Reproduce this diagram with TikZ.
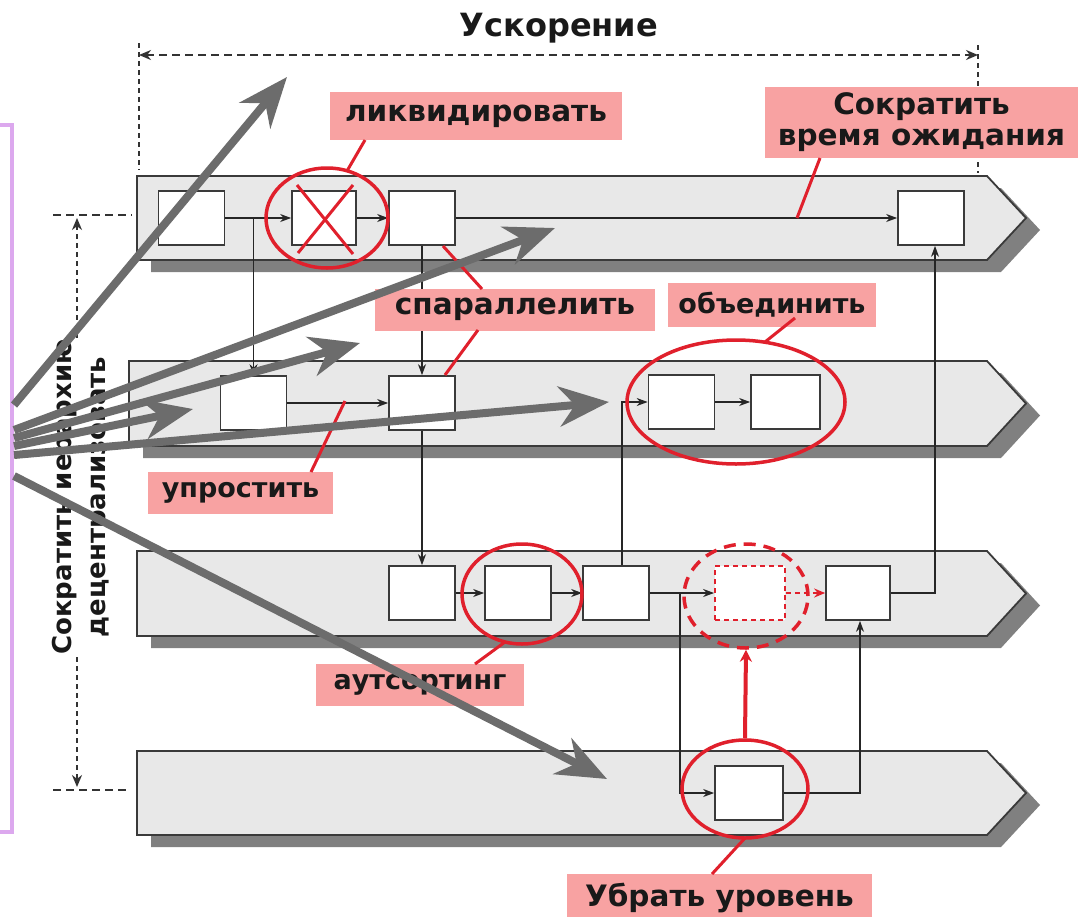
\documentclass[tikz,border=0pt]{standalone}
\usepackage{fontspec}
\setmainfont{DejaVu Sans}
\usetikzlibrary{arrows.meta,shapes.geometric,calc}
\definecolor{lanefill}{HTML}{E8E8E8}
\definecolor{laneshadow}{HTML}{808080}
\definecolor{laneline}{HTML}{3A3A3A}
\definecolor{redline}{HTML}{E0202C}
\definecolor{labelfill}{HTML}{F8A2A2}
\definecolor{fanarrow}{HTML}{6C6C6C}
\definecolor{framepurple}{HTML}{DCA8EE}
\tikzset{
  procbox/.style={draw=laneline, fill=white, line width=1.7pt, minimum width=66pt, minimum height=54pt, inner sep=0pt},
  flow/.style={draw=black!85, line width=1.5pt, -{Stealth[length=11pt,width=8pt]}},
  redring/.style={ellipse, draw=redline, line width=3.5pt, inner sep=0pt},
  leader/.style={draw=redline, line width=3pt},
  tag/.style={fill=labelfill, font=\bfseries\fontsize{27}{31}\selectfont, text=black!90, inner sep=0pt, align=center},
  bigtag/.style={tag, font=\bfseries\fontsize{29.5}{31}\selectfont},
  fan/.style={draw=fanarrow, line width=8pt, -{Stealth[length=50pt,width=40pt,inset=16pt]}},
  dimline/.style={draw=black!80, line width=2.8pt, dash pattern=on 8pt off 5pt},
  dimtip/.style={{Stealth[length=12pt,width=10pt]}-{Stealth[length=12pt,width=10pt]}},
}
\newcommand\drawlane[3]{%
  \fill[laneshadow] ({#1+14},{#2+12}) -- (1001,{#2+12}) -- (1040,{(#2+#3)/2+12}) -- (1001,{#3+12}) -- ({#1+14},{#3+12}) -- cycle;
  \filldraw[fill=lanefill, draw=laneline, line width=1.8pt] (#1,#2) -- (987,#2) -- (1026,{(#2+#3)/2}) -- (987,#3) -- (#1,#3) -- cycle;
}
\begin{document}
\begin{tikzpicture}[x=1pt,y=-1pt]
\useasboundingbox[fill=white] (0,0) rectangle (1079,916);

% lanes
\drawlane{137}{176}{260}
\drawlane{129}{361}{446}
\drawlane{137}{551}{636}
\drawlane{137}{751}{835}

% dimension lines
\node[font=\bfseries\fontsize{32}{36}\selectfont, text=black!90] (head) at (559,28) {Ускорение};
\coordinate (dl) at (139,55); \coordinate (dr) at (978,55);
\draw[dimline, dimtip] (dl) -- (dr);
\draw[dimline, dash pattern=on 5pt off 4pt] (139,43) -- (139,170);
\draw[dimline, dash pattern=on 5pt off 4pt] (978,45) -- (978,173);
\coordinate (vt) at (77,218); \coordinate (vb) at (77,787);
\draw[dimline, dash pattern=on 5pt off 4pt, dimtip] (vt) -- (vb);
\draw[dimline] (53,215) -- (132,215);
\draw[dimline] (53,790) -- (130,790);
\node[rotate=90, fill=white, inner sep=1pt, align=center, font=\bfseries\fontsize{26}{34}\selectfont, text=black!90] (vtext) at (82,497) {Сократить иерархию\\децентрализовать};

% process boxes
\node[procbox] (A1) at (191.5,218) {};
\node[procbox, minimum width=64pt] (A2) at (324,218) {};
\node[procbox] (A3) at (422,218) {};
\node[procbox] (A4) at (931,218) {};
\node[procbox] (B1) at (253.5,403) {};
\node[procbox] (B2) at (422,403) {};
\node[procbox] (B3) at (681.5,402) {};
\node[procbox, minimum width=69pt] (B4) at (785.5,402) {};
\node[procbox] (C1) at (422,593) {};
\node[procbox] (C2) at (518,593) {};
\node[procbox] (C3) at (616,593) {};
\node[procbox, draw=redline, dash pattern=on 5pt off 4pt, line width=1.8pt, minimum width=70pt] (C4) at (750,593) {};
\node[procbox, minimum width=64pt] (C5) at (858,593) {};
\node[procbox, minimum width=68pt] (D1) at (749,793) {};

% connectors
\draw[flow] (A1) -- (A2);
\draw[flow] (A2) -- (A3);
\draw[flow] (A3) -- (A4);
\coordinate (jA) at (253.5,218);
\draw[flow] (jA) -- (B1);
\draw[flow] (A3) -- (B2);
\draw[flow] (B1) -- (B2);
\draw[flow] (B2) -- (C1);
\draw[flow] (C1) -- (C2);
\draw[flow] (C2) -- (C3);
\coordinate (jC) at (622,402);
\draw[flow] (jC |- C3.north) -- (jC) -- (B3);
\draw[flow] (B3) -- (B4);
\draw[flow] (C3) -- (C4);
\coordinate (jD) at (680,593);
\draw[flow] (jD) -- (jD |- D1) -- (D1);
\draw[flow, draw=redline, dash pattern=on 5pt off 4pt, line width=1.8pt, -{Stealth[length=11pt,width=9pt]}] (C4) -- (C5);
\coordinate (jE) at (860,793);
\draw[flow] (D1) -- (jE) -- (jE |- C5.south);
\coordinate (jF) at (935,593);
\draw[flow] (C5) -- (jF) -- (jF |- A4.south);

% red marks
\node[redring, minimum width=122pt, minimum height=100pt] (E1) at (327,218) {};
\coordinate (x1) at (297,185); \coordinate (x2) at (353,254);
\coordinate (x3) at (353,185); \coordinate (x4) at (298,253);
\draw[leader] (x1) -- (x2);
\draw[leader] (x3) -- (x4);
\node[redring, minimum width=218pt, minimum height=124pt] (E2) at (736,402) {};
\node[redring, minimum width=120pt, minimum height=100pt] (E3) at (522,594) {};
\node[redring, dash pattern=on 12pt off 8pt, minimum width=124pt, minimum height=104pt] (E4) at (746,596) {};
\node[redring, minimum width=126pt, minimum height=98pt] (E5) at (745,789) {};
\draw[draw=redline, line width=4pt, -{Stealth[length=12pt,width=12pt]}] (E5.north) -- (E4.south);

% labels
\node[bigtag, minimum width=292pt, minimum height=48pt] (T1) at (476,116) {ликвидировать};
\node[bigtag, minimum width=313pt, minimum height=71pt] (T2) at (921.5,122.5) {Сократить\\время ожидания};
\node[bigtag, minimum width=280pt, minimum height=42pt] (T3) at (515,309.5) {спараллелить};
\node[tag, minimum width=208pt, minimum height=44pt] (T4) at (772,305) {объединить};
\node[tag, minimum width=185pt, minimum height=42pt] (T5) at (240.5,493) {упростить};
\node[tag, minimum width=208pt, minimum height=42pt] (T6) at (420,685) {аутсортинг};
\node[bigtag, minimum width=305pt, minimum height=48pt] (T7) at (719.5,898) {Убрать уровень};

% leaders
\coordinate (l1a) at (365,140); \coordinate (l1b) at (347,171);
\draw[leader] (l1a) -- (l1b);
\coordinate (l2a) at (820,158); \coordinate (l2b) at (797,218);
\draw[leader] (l2a) -- (l2b);
\coordinate (l3a) at (443,246); \coordinate (l3b) at (482,289);
\draw[leader] (l3a) -- (l3b);
\coordinate (l4a) at (478,330); \coordinate (l4b) at (445,375);
\draw[leader] (l4a) -- (l4b);
\coordinate (l5a) at (795,318); \coordinate (l5b) at (765,342);
\draw[leader] (l5a) -- (l5b);
\coordinate (l6a) at (345,401); \coordinate (l6b) at (311,472);
\draw[leader] (l6a) -- (l6b);
\coordinate (l7a) at (475,664); \coordinate (l7b) at (505,642);
\draw[leader] (l7a) -- (l7b);
\coordinate (l8a) at (745,838); \coordinate (l8b) at (712,874);
\draw[leader] (l8a) -- (l8b);

% purple frame
\draw[framepurple, line width=4pt] (-20,125) rectangle (12,832);

% fan arrows
\coordinate (s1) at (14,405); \coordinate (t1) at (287,77);
\coordinate (s2) at (14,430); \coordinate (t2) at (555,228);
\coordinate (s3) at (14,438); \coordinate (t3) at (360,343);
\coordinate (s4) at (14,446); \coordinate (t4) at (193,409);
\coordinate (s5) at (14,455); \coordinate (t5) at (609,402);
\coordinate (s6) at (14,476); \coordinate (t6) at (607,779);
\draw[fan] (s1) -- (t1);
\draw[fan] (s2) -- (t2);
\draw[fan] (s3) -- (t3);
\draw[fan] (s4) -- (t4);
\draw[fan] (s5) -- (t5);
\draw[fan] (s6) -- (t6);
\end{tikzpicture}
\end{document}
